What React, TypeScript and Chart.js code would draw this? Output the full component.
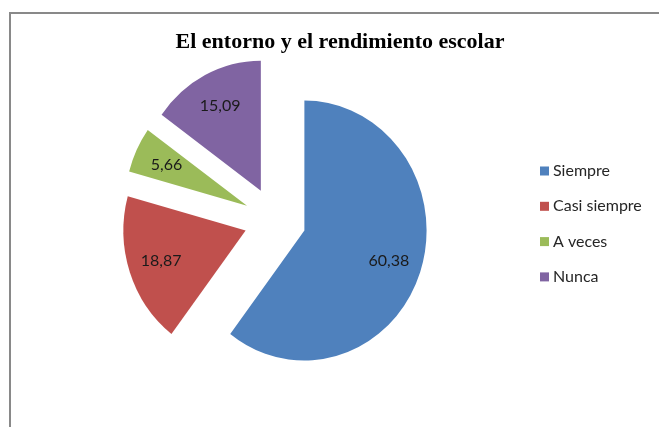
import React, { useEffect, useRef } from 'react';
import { Chart, registerables } from 'chart.js';

Chart.register(...registerables);

const chartTitle = 'El entorno y el rendimiento escolar';
const categories = ['Siempre', 'Casi siempre', 'A veces', 'Nunca'];
const values = [60.38, 18.87, 5.66, 15.09];
const colors = ['#4F81BD', '#C0504D', '#9BBB59', '#8064A2'];

const EXPLODE = 33;
const SX = 0.94;
const LABEL_FRAC = 0.73;

export default function App() {
  const ref = useRef<HTMLCanvasElement>(null);

  useEffect(() => {
    const canvas = ref.current!;
    const plugin = {
      id: 'excelLook',
      beforeDraw(chart: any) {
        const ctx = chart.ctx;
        ctx.save();
        ctx.fillStyle = '#ffffff';
        ctx.fillRect(0, 0, chart.width, chart.height);
        ctx.fillStyle = '#898989';
        ctx.fillRect(9, 12, chart.width - 9, 2);
        ctx.fillRect(9, 12, 2, chart.height - 12);
        ctx.fillStyle = '#000000';
        ctx.font = 'bold 22px "Liberation Serif", "Times New Roman", serif';
        ctx.textAlign = 'center';
        ctx.textBaseline = 'alphabetic';
        ctx.fillText(chartTitle, 340, 48);
        ctx.restore();
      },
      beforeDatasetDraw(chart: any, args: any) {
        const ctx = chart.ctx;
        args.meta.data.forEach((arc: any) => {
          const mid = (arc.startAngle + arc.endAngle) / 2;
          ctx.save();
          ctx.translate(arc.x, arc.y);
          ctx.scale(SX, 1);
          ctx.translate(Math.cos(mid) * EXPLODE, Math.sin(mid) * EXPLODE);
          ctx.translate(-arc.x, -arc.y);
          arc.draw(ctx);
          ctx.restore();
        });
        return false;
      },
      afterDatasetsDraw(chart: any) {
        const ctx = chart.ctx;
        const meta = chart.getDatasetMeta(0);
        ctx.save();
        ctx.font = '16px Lato, "Noto Sans", sans-serif';
        ctx.fillStyle = '#1a1a1a';
        ctx.textAlign = 'center';
        ctx.textBaseline = 'middle';
        meta.data.forEach((arc: any, i: number) => {
          const mid = (arc.startAngle + arc.endAngle) / 2;
          const d = EXPLODE + LABEL_FRAC * arc.outerRadius;
          const x = arc.x + SX * Math.cos(mid) * d;
          const y = arc.y + Math.sin(mid) * d;
          ctx.fillText(values[i].toFixed(2).replace('.', ','), x, y);
        });
        // legend
        ctx.textAlign = 'left';
        categories.forEach((c, i) => {
          const cy = 171 + i * 35.3;
          ctx.fillStyle = colors[i];
          ctx.fillRect(540, cy - 4.5, 9, 9);
          ctx.fillStyle = '#262626';
          ctx.fillText(c, 553, cy);
        });
        ctx.restore();
      },
    };

    const chart = new Chart(canvas, {
      type: 'pie',
      data: {
        labels: categories,
        datasets: [
          {
            data: values,
            backgroundColor: colors,
            borderWidth: 0,
            radius: 130,
          } as any,
        ],
      },
      options: {
        responsive: false,
        animation: false,
        events: [],
        layout: { padding: { left: 50, right: 159, top: 60, bottom: 47 } },
        plugins: {
          legend: { display: false },
          tooltip: { enabled: false },
          title: { display: false },
        },
      },
      plugins: [plugin],
    });
    return () => chart.destroy();
  }, []);

  return (
    <div style={{ position: 'fixed', left: 0, top: 0, width: 659, height: 427 }}>
      <canvas ref={ref} width={659} height={427} style={{ display: 'block' }} />
    </div>
  );
}
